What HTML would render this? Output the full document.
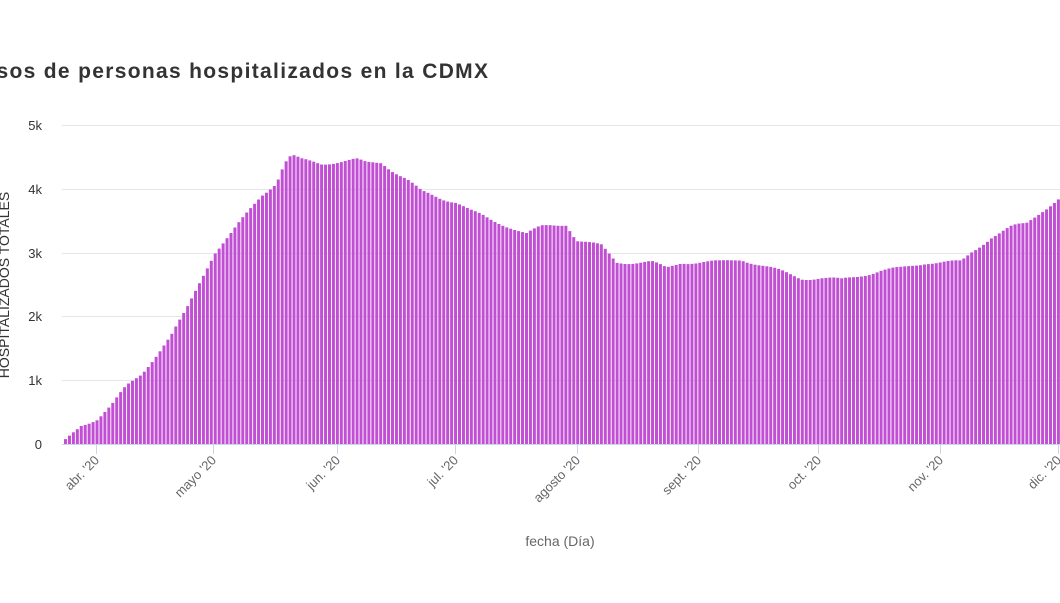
<!DOCTYPE html>
<html><head><meta charset="utf-8"><style>
body{margin:0;background:#fff;width:1060px;height:598px;overflow:hidden;font-family:"Liberation Sans",sans-serif}
</style></head><body>
<svg id="s" width="1060" height="598" xmlns="http://www.w3.org/2000/svg">
<text x="-33" y="78" font-size="21" font-weight="bold" fill="#333" textLength="521" lengthAdjust="spacing">Casos de personas hospitalizados en la CDMX</text>
<g stroke="#e6e6e6" stroke-width="1">
<line x1="62" x2="1060" y1="125.5" y2="125.5"/><line x1="62" x2="1060" y1="189.5" y2="189.5"/>
<line x1="62" x2="1060" y1="253.5" y2="253.5"/><line x1="62" x2="1060" y1="316.5" y2="316.5"/>
<line x1="62" x2="1060" y1="380.5" y2="380.5"/>
</g>
<g font-size="13" fill="#333" text-anchor="end">
<text x="42" y="130">5k</text><text x="42" y="194">4k</text><text x="42" y="258">3k</text>
<text x="42" y="321">2k</text><text x="42" y="385">1k</text><text x="42" y="449">0</text>
</g>
<text transform="translate(9,285) rotate(-90)" font-size="14" fill="#333" text-anchor="middle">HOSPITALIZADOS TOTALES</text>
<g id="bars" fill="#c04fd4"></g>
<line x1="62" x2="1060" y1="444.5" y2="444.5" stroke="#ccd6eb"/>
<g id="xt"></g>
<text x="560" y="546" font-size="14" fill="#666" text-anchor="middle">fecha (Día)</text>
</svg>
<script>
var k=[[64,0.05],[80,0.3],[96,0.4],[110,0.6],[125,0.9],[140,1.1],[155,1.4],[170,1.7],[185,2.1],[200,2.6],[213,3.0],[230,3.3],[245,3.6],[260,3.9],[275,4.1],[283,4.4],[290,4.52],[300,4.45],[320,4.4],[340,4.43],[355,4.45],[365,4.4],[380,4.42],[390,4.3],[405,4.15],[420,3.95],[440,3.85],[455,3.8],[470,3.65],[490,3.5],[510,3.4],[525,3.3],[540,3.4],[565,3.45],[575,3.2],[600,3.1],[615,2.85],[650,2.85],[665,2.75],[680,2.85],[700,2.85],[720,2.85],[740,2.9],[760,2.8],[780,2.7],[800,2.6],[820,2.6],[840,2.57],[860,2.65],[880,2.72],[900,2.75],[925,2.85],[945,2.85],[960,2.85],[970,3.0],[990,3.25],[1010,3.4],[1025,3.45],[1040,3.65],[1062,3.9]];
function v(x){for(var i=1;i<k.length;i++)if(x<=k[i][0]){var a=k[i-1],b=k[i];return a[1]+(b[1]-a[1])*(x-a[0])/(b[0]-a[0]);}return 3.9;}
var h='',d=3.94;
for(var x=64;x<1062;x+=d){var val=v(x)+0.03*Math.sin(x*1.7),ht=val*63.8,y=444-ht;h+='<rect x="'+x.toFixed(2)+'" y="'+y.toFixed(1)+'" width="3" height="'+ht.toFixed(1)+'"/>';}
document.getElementById('bars').innerHTML=h;
var t=[[96,"abr. '20"],[213,"mayo '20"],[337,"jun. '20"],[455,"jul. '20"],[577,"agosto '20"],[698,"sept. '20"],[818,"oct. '20"],[940,"nov. '20"],[1058,"dic. '20"]],s='';
t.forEach(function(p){s+='<line x1="'+p[0]+'.5" x2="'+p[0]+'.5" y1="444" y2="454" stroke="#ccd6eb"/><text transform="translate('+(p[0]+4)+',461) rotate(-45)" font-size="13" fill="#666" text-anchor="end">'+p[1]+'</text>';});
document.getElementById('xt').innerHTML=s;
</script>
</body></html>
